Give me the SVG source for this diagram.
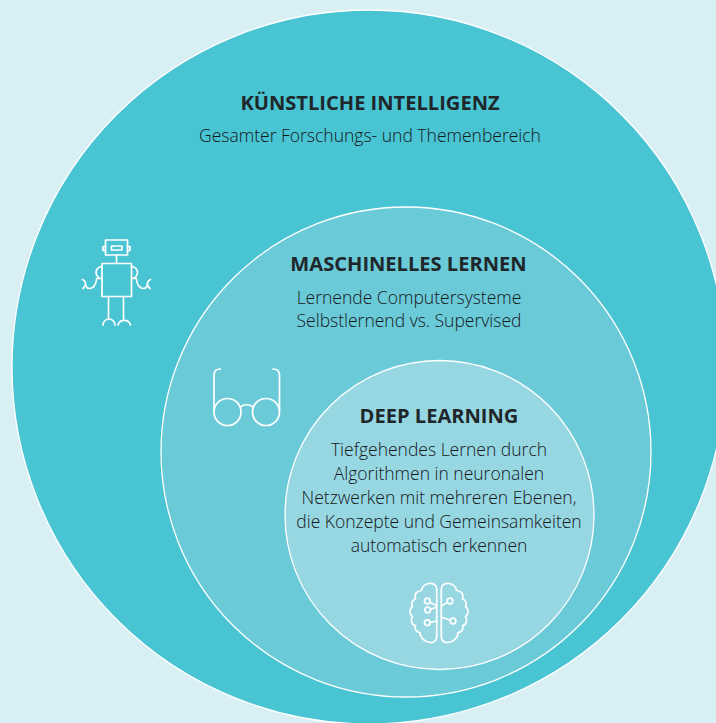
<svg xmlns="http://www.w3.org/2000/svg" width="716" height="723" viewBox="0 0 716 723">
<style>
.c{stroke:#fff;stroke-width:1.3}
text{font-family:"Open Sans","Noto Sans",sans-serif;fill:#20272b;text-anchor:middle}
.t{font-size:20.1px;font-weight:700}
.b{font-size:17.5px;font-weight:300;fill:#15191c}
.i{fill:none;stroke:#fff;stroke-width:1.7;stroke-linecap:round;stroke-linejoin:round}
</style>
<rect width="716" height="723" fill="#d8eff4"/>
<g id="ki">
<circle class="c" cx="369" cy="367" r="357" fill="#49c4d3"/>
<text class="t" x="370" y="110">KÜNSTLICHE INTELLIGENZ</text>
<text class="b" x="370" y="142">Gesamter Forschungs- und Themenbereich</text>
<g id="robot" class="i">
<rect x="105.500" y="240" width="22" height="15"/>
<rect x="111.500" y="246" width="10.500" height="4"/>
<path d="M105.500 246.500H103V250.500H105.500M127.500 246.500H130V250.500H127.500M116.500 255V263"/>
<rect x="102" y="263.500" width="29.500" height="33"/>
<path d="M102 266.500A6 6 0 0 0 102 278.500H96.700C96 285 93 288.500 89 288.500C86.500 288.500 86 286 85.500 284M82.500 279.500C86 281 87 285 83 288.500"/>
<path d="M131.500 266.500A6 6 0 0 1 131.500 278.500H136.300C137 285 140 288.500 144 288.500C146.500 288.500 147 286 147.500 284M150.500 279.500C147 281 146 285 150 288.500"/>
<path d="M108.500 296.500V319M123.500 296.500V319M103 325A6 6 0 0 1 115 325M118 325A6.500 6.500 0 0 1 130.500 325"/>
</g>
</g>
<g id="ml">
<circle class="c" cx="406" cy="452" r="245" fill="#6bcad8"/>
<text class="t" x="408.500" y="271">MASCHINELLES LERNEN</text>
<text class="b" x="409" y="304">Lernende Computersysteme</text>
<text class="b" x="409" y="327">Selbstlernend vs. Supervised</text>
<g id="glasses" class="i">
<circle cx="227.500" cy="412" r="13.500"/>
<circle cx="266" cy="412" r="13.500"/>
<path d="M214 410V375C214 371 216 369 220.500 369M279.500 410V375C279.500 371 277.500 369 273 369M240.500 407C244 404 249.500 404 253 407"/>
</g>
</g>
<g id="dl">
<circle class="c" cx="439.500" cy="515" r="154.500" fill="#97d7e2"/>
<text class="t" x="439" y="423">DEEP LEARNING</text>
<text class="b" x="439" y="456">Tiefgehendes Lernen durch</text>
<text class="b" x="439" y="480">Algorithmen in neuronalen</text>
<text class="b" x="439" y="504">Netzwerken mit mehreren Ebenen,</text>
<text class="b" x="439" y="528">die Konzepte und Gemeinsamkeiten</text>
<text class="b" x="439" y="552">automatisch erkennen</text>
<g id="brain" class="i">
<path d="M436.700 589C436.700 585 433 583 429 583.500C425 584 422 587 421.500 590.500C417 590.500 414 594 415.500 599C412 600 411 604 412.500 606.500C409 609 409 614 412.500 616.500C410 620 411.500 625 415.500 625.500C414 629 416.500 632.500 420 632.500C420 638 425 642 430 642.500C434 643 436.700 640 436.700 637Z"/>
<path d="M441.300 589C441.300 585 445 583 449 583.500C453 584 456 587 456.500 590.500C461 590.500 464 594 462.500 599C466 600 467 604 465.500 606.500C469 609 469 614 465.500 616.500C468 620 466.500 625 462.500 625.500C464 629 461.500 632.500 458 632.500C458 638 453 642 448 642.500C444 643 441.300 640 441.300 637Z"/>
<circle cx="427.300" cy="601" r="2.800"/><circle cx="427.700" cy="610" r="2.800"/><circle cx="427.300" cy="622.700" r="2.800"/>
<circle cx="450" cy="601" r="2.800"/><circle cx="453" cy="621" r="2.800"/>
<path d="M429.800 602.500L436.700 605.500M430.500 609.500L436.700 607M430 622.300L436.700 621M447.500 602.500L441.300 606M450.200 620.300L441.300 617"/>
</g>
</g>
</svg>
